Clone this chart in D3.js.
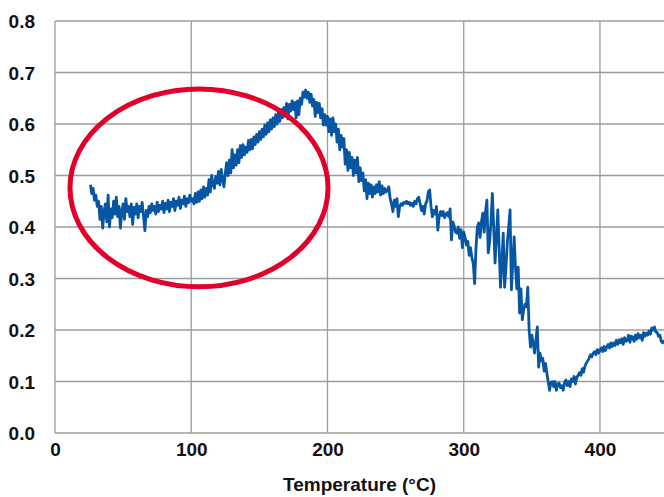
<!DOCTYPE html>
<html>
<head>
<meta charset="utf-8">
<script src="https://cdn.jsdelivr.net/npm/d3@7"></script>
<style>
  body { margin: 0; background: #fff; }
  svg text { font-family: "Liberation Sans", Arial, sans-serif; font-weight: bold; fill: #111; }
</style>
</head>
<body>
<svg id="chart"></svg>
<script>
// [temperature °C, value]
var startSeg = [[26,0.482],[27,0.465],[28,0.475],[29,0.452],[30,0.462],[31,0.44],[32,0.45]];
var plateau = [[33,0.415],[34,0.44],[35,0.398],[36,0.43],[37,0.445],[38,0.41],[39,0.462],[40,0.4],[41,0.435],[42,0.418],
  [43,0.45],[44,0.425],[45,0.458],[46,0.42],[47,0.44],[48,0.398],[49,0.43],[50,0.445],[51,0.415],[52,0.455],
  [53,0.43],[54,0.44],[55,0.42],[56,0.445],[57,0.405],[58,0.438],[59,0.425],[60,0.445],[61,0.418],[62,0.44],
  [63,0.43],[64,0.448],[65,0.42],[66,0.393],[67,0.432],[68,0.42],[69,0.44],[70,0.428],[71,0.445],[72,0.432],
  [73,0.44],[74,0.425],[75,0.448],[76,0.43],[77,0.442],[78,0.435],[79,0.45],[80,0.428],[81,0.446],[82,0.435],
  [83,0.452],[84,0.43],[85,0.448],[86,0.44],[87,0.455],[88,0.432],[89,0.45],[90,0.442],[91,0.458],[92,0.436],
  [93,0.452],[94,0.445],[95,0.46],[96,0.44],[97,0.455],[98,0.447],[99,0.462],[100,0.45]];
var rise = [[101,0.455],[102,0.445],[103,0.465],[104,0.448],[105,0.468],[106,0.45],[107,0.472],[108,0.455],[109,0.478],[110,0.458],
  [111,0.475],[112,0.462],[113,0.492],[114,0.468],[115,0.5],[116,0.482],[117,0.475],[118,0.498],[119,0.485],[120,0.508],
  [121,0.482],[122,0.512],[123,0.492],[124,0.478],[125,0.505],[126,0.525],[127,0.5],[128,0.53],[129,0.505],[130,0.55],
  [131,0.515],[132,0.54],[133,0.52],[134,0.55],[135,0.525],[136,0.558],[137,0.535],[138,0.56],[139,0.54],[140,0.555],
  [141,0.545],[142,0.568],[143,0.55],[144,0.57],[145,0.552],[146,0.575],[147,0.56],[148,0.58],[149,0.565],[150,0.585],
  [151,0.57],[152,0.59],[153,0.575],[154,0.598],[155,0.58],[156,0.602],[157,0.585],[158,0.608],[159,0.59],[160,0.612],
  [161,0.595],[162,0.618],[163,0.6],[164,0.622],[165,0.605],[166,0.628],[167,0.612],[168,0.632],[169,0.615],[170,0.64],
  [171,0.61],[172,0.638],[173,0.625],[174,0.645],[175,0.628],[176,0.642],[177,0.612],[178,0.645],[179,0.618],[180,0.65],
  [181,0.638],[182,0.662],[183,0.652],[184,0.666],[185,0.65],[186,0.662],[187,0.642],[188,0.658],[189,0.635],[190,0.648],
  [191,0.615],[192,0.642],[193,0.622],[194,0.64],[195,0.612],[196,0.63],[197,0.598],[198,0.618],[199,0.598]];
var fall = [[200,0.615],[201,0.585],[202,0.61],[203,0.578],[204,0.612],[205,0.585],[206,0.6],[207,0.565],[208,0.59],[209,0.55],
  [210,0.578],[211,0.555],[212,0.572],[213,0.522],[214,0.55],[215,0.51],[216,0.545],[217,0.515],[218,0.535],[219,0.5],
  [220,0.53],[221,0.505],[222,0.535],[223,0.488],[224,0.515],[225,0.49],[226,0.505],[227,0.47],[228,0.492],[229,0.455],
  [230,0.485],[231,0.465],[232,0.482],[233,0.458],[234,0.478],[235,0.465],[236,0.482],[237,0.468],[238,0.488],[239,0.462],
  [240,0.48],[241,0.465],[242,0.475],[243,0.468],[244,0.472],[245,0.478],[246,0.455],[247,0.445],[248,0.43],[249,0.452],
  [250,0.44],[251,0.455],[252,0.42],[253,0.44],[254,0.445],[255,0.442],[256,0.448],[257,0.446],[258,0.45],[259,0.445],
  [260,0.448],[261,0.442],[262,0.446],[263,0.44],[264,0.45],[265,0.445],[266,0.455],[267,0.458],[268,0.445],[269,0.432],
  [270,0.44],[271,0.425],[272,0.445],[273,0.45],[274,0.468],[275,0.472],[276,0.44],[277,0.42],[278,0.432],[279,0.425],
  [280,0.44],[281,0.394],[282,0.42],[283,0.43],[284,0.422],[285,0.43],[286,0.418],[287,0.425],[288,0.428],[289,0.42],
  [290,0.435],[291,0.375],[292,0.41],[293,0.402],[294,0.39],[295,0.388],[296,0.4],[297,0.378],[298,0.395],[299,0.36],
  [300,0.39],[301,0.38],[302,0.365],[303,0.372],[304,0.345],[305,0.36],[306,0.34],[307,0.33],[308,0.29],[309,0.36],[310,0.4]];
var drop = [[311,0.408],[312,0.38],[313,0.41],[314,0.427],[315,0.39],[316,0.43],[317,0.452],[318,0.35],[319,0.37],[320,0.41],
  [321,0.465],[322,0.4],[323,0.33],[324,0.38],[325,0.433],[326,0.36],[327,0.283],[328,0.33],[329,0.388],[330,0.283],
  [331,0.32],[332,0.37],[333,0.4],[334,0.433],[335,0.278],[336,0.33],[337,0.381],[338,0.32],[339,0.28],[340,0.322],
  [341,0.233],[342,0.28],[343,0.22],[344,0.24],[345,0.25],[346,0.245],[347,0.283],[348,0.2],[349,0.167],[350,0.19],
  [351,0.175],[352,0.155],[353,0.18],[354,0.206],[355,0.128],[356,0.155],[357,0.14],[358,0.145],[359,0.12],[360,0.135],
  [361,0.117],[362,0.1],[363,0.083],[364,0.098],[365,0.1],[366,0.09],[367,0.1],[368,0.083],[369,0.095],[370,0.097],
  [371,0.088],[372,0.092],[373,0.083],[374,0.098],[375,0.103],[376,0.092],[377,0.1],[378,0.09],[379,0.105],[380,0.1],
  [381,0.11],[382,0.095],[383,0.108],[384,0.112],[385,0.117]];
var recovery = [[386,0.112],[387,0.125],[388,0.118],[389,0.13],[390,0.136],[391,0.14],[392,0.145],[393,0.152],[394,0.148],[395,0.155],
  [396,0.158],[397,0.152],[398,0.162],[399,0.155],[400,0.161],[401,0.165],[402,0.158],[403,0.168],[404,0.16],[405,0.167],
  [406,0.172],[407,0.165],[408,0.175],[409,0.168],[410,0.175],[411,0.17],[412,0.18],[413,0.172],[414,0.181],[415,0.175],
  [416,0.183],[417,0.172],[418,0.185],[419,0.178],[420,0.18],[421,0.19],[422,0.176],[423,0.188],[424,0.186],[425,0.178],
  [426,0.19],[427,0.182],[428,0.193],[429,0.185],[430,0.19],[431,0.18],[432,0.195],[433,0.188],[434,0.194],[435,0.19],
  [436,0.198],[437,0.192],[438,0.204],[439,0.2],[440,0.206],[441,0.196],[442,0.195],[443,0.188],[444,0.19],[445,0.178],
  [446,0.175],[447,0.18]];

var xTicks = [0, 100, 200, 300, 400];
var yTicks = [0, 0.1, 0.2, 0.3, 0.4, 0.5, 0.6, 0.7, 0.8];
// highlighted region (centre temp, centre value, radius in temp, radius in value)
var highlight = [105.7, 0.476, 94.7, 0.192];

var series = startSeg.concat(plateau, rise, fall, drop, recovery);

var width = 664, height = 497;
var margin = {top: 21, right: 0, bottom: 64, left: 55};
var innerW = width - margin.left - margin.right;
var innerH = height - margin.top - margin.bottom;

var svg = d3.select('#chart').attr('width', width).attr('height', height);
var g = svg.append('g').attr('transform', 'translate(' + margin.left + ',' + margin.top + ')');

var x = d3.scaleLinear().domain([0, 447]).range([0, innerW]);
var y = d3.scaleLinear().domain([0, 0.8]).range([innerH, 0]);

// grid
g.append('g').selectAll('line.h').data(yTicks).enter().append('line')
    .attr('x1', 0).attr('x2', innerW)
    .attr('y1', function (d) { return y(d); }).attr('y2', function (d) { return y(d); })
    .attr('stroke', '#9c9c9c').attr('stroke-width', 1.3);
g.append('g').selectAll('line.v').data(xTicks).enter().append('line')
    .attr('y1', 0).attr('y2', innerH)
    .attr('x1', function (d) { return x(d); }).attr('x2', function (d) { return x(d); })
    .attr('stroke', '#9c9c9c').attr('stroke-width', 1.3);

var yAxis = g.append('g')
    .call(d3.axisLeft(y).tickValues(yTicks).tickFormat(d3.format('.1f')).tickSize(0).tickPadding(20));
yAxis.select('.domain').remove();
yAxis.selectAll('text').style('font-size', '19px').attr('dy', '0.35em');

var xAxis = g.append('g')
    .attr('transform', 'translate(0,' + innerH + ')')
    .call(d3.axisBottom(x).tickValues(xTicks).tickSize(0).tickPadding(10));
xAxis.select('.domain').remove();
xAxis.selectAll('text').style('font-size', '19px');

svg.append('text')
    .attr('x', margin.left + innerW / 2)
    .attr('y', 491)
    .attr('text-anchor', 'middle')
    .style('font-size', '19px')
    .text('Temperature (°C)');

var line = d3.line()
    .x(function (d) { return x(d[0]); })
    .y(function (d) { return y(d[1]); });

g.append('path')
    .datum(series)
    .attr('d', line)
    .attr('fill', 'none')
    .attr('stroke', '#0756a4')
    .attr('stroke-width', 2.8)
    .attr('stroke-linejoin', 'round');

g.append('ellipse')
    .attr('cx', x(highlight[0]))
    .attr('cy', y(highlight[1]))
    .attr('rx', x(highlight[2]) - x(0))
    .attr('ry', y(0) - y(highlight[3]))
    .attr('fill', 'none')
    .attr('stroke', '#e0002a')
    .attr('stroke-width', 5);
</script>
</body>
</html>
